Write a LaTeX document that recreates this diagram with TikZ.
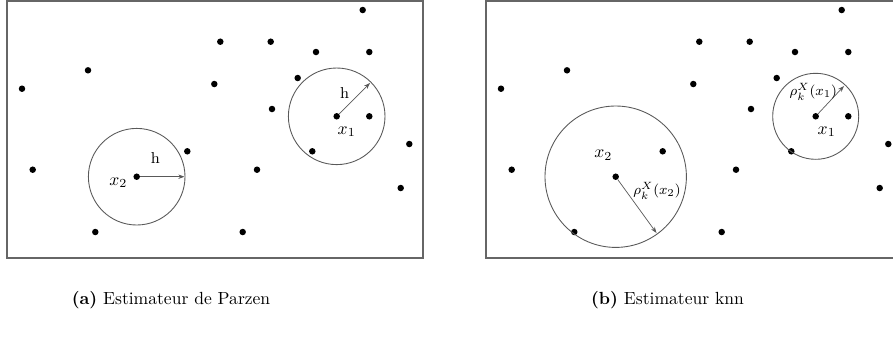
\documentclass[tikz,border=0pt]{standalone}
\usetikzlibrary{arrows.meta}
\begin{document}
\begin{tikzpicture}[x=0.02cm,y=-0.02cm,
  dot/.style={circle,fill=black,inner sep=0pt,minimum size=0.13cm},
  ring/.style={draw=black!65,line width=0.5pt},
  radius arrow/.style={draw=black!65,line width=0.4pt,-{Stealth[length=3.5pt,width=2.5pt]}},
  frame/.style={draw=black!60,line width=1.3pt},
  lbl/.style={inner sep=0.5pt,font=\small}]
\useasboundingbox (0,0) rectangle (893,343);
\clip (0,0) rectangle (893,343);
% same sample in both panels
\foreach \ox/\pn in {0/a,479/b}{
  \begin{scope}[shift={(\ox,0)}]
    \draw[frame] (7,1) rectangle (423,258);
    \foreach \px/\py [count=\i] in {362.7/10, 220.3/41.7, 270.7/41.7, 316/52,
        369.3/52, 88/70.3, 22/88.7, 214.3/84, 297.7/78, 272/109, 369.3/116.3,
        409.3/144, 312.3/151.3, 32.7/169.7, 257/169.7, 400.7/188, 95.3/232,
        242.7/232}
      \node[dot] (\pn-p\i) at (\px,\py) {};
    \node[dot] (\pn-c1) at (336.7,116.3) {};
    \node[dot] (\pn-c2) at (136.7,176.7) {};
  \end{scope}
}
\node[dot] (a-q) at (187.3,151.3) {};
\node[dot] (b-q) at (662.7,151.3) {};

% (a) Parzen: fixed radius h
\draw[ring] (a-c1) circle[radius=48.3];
\draw[ring] (a-c2) circle[radius=48.3];
\coordinate (a-h1) at (370,83);
\coordinate (a-h2) at (184.5,176.7);
\draw[radius arrow] (a-c1) -- (a-h1);
\draw[radius arrow] (a-c2) -- (a-h2);
\node[lbl] (a-lh1) at (344.7,93.3) {h};
\node[lbl] (a-lh2) at (155.3,158.3) {h};
\node[lbl,font=\normalsize] (a-lx1) at (346.7,131.7) {$x_1$};
\node[lbl,font=\normalsize] (a-lx2) at (118.3,182.7) {$x_2$};

% (b) knn: radius = distance to k-th neighbour
\draw[ring] (b-c1) circle[radius=43];
\draw[ring] (b-c2) circle[radius=70.7];
\coordinate (b-r1) at (844,86);
\coordinate (b-r2) at (656.5,233);
\draw[radius arrow] (b-c1) -- (b-r1);
\draw[radius arrow] (b-c2) -- (b-r2);
\node[lbl,font=\footnotesize] (b-lr1) at (813.3,92) {$\rho_k^X(x_1)$};
\node[lbl,font=\footnotesize] (b-lr2) at (657,191) {$\rho_k^X(x_2)$};
\node[lbl,font=\normalsize] (b-lx1) at (826.7,131.7) {$x_1$};
\node[lbl,font=\normalsize] (b-lx2) at (603.3,155) {$x_2$};

\node (cap-a) at (171,300) {\textbf{(a)} Estimateur de Parzen};
\node (cap-b) at (667.5,300) {\textbf{(b)} Estimateur knn};
\end{tikzpicture}
\end{document}
